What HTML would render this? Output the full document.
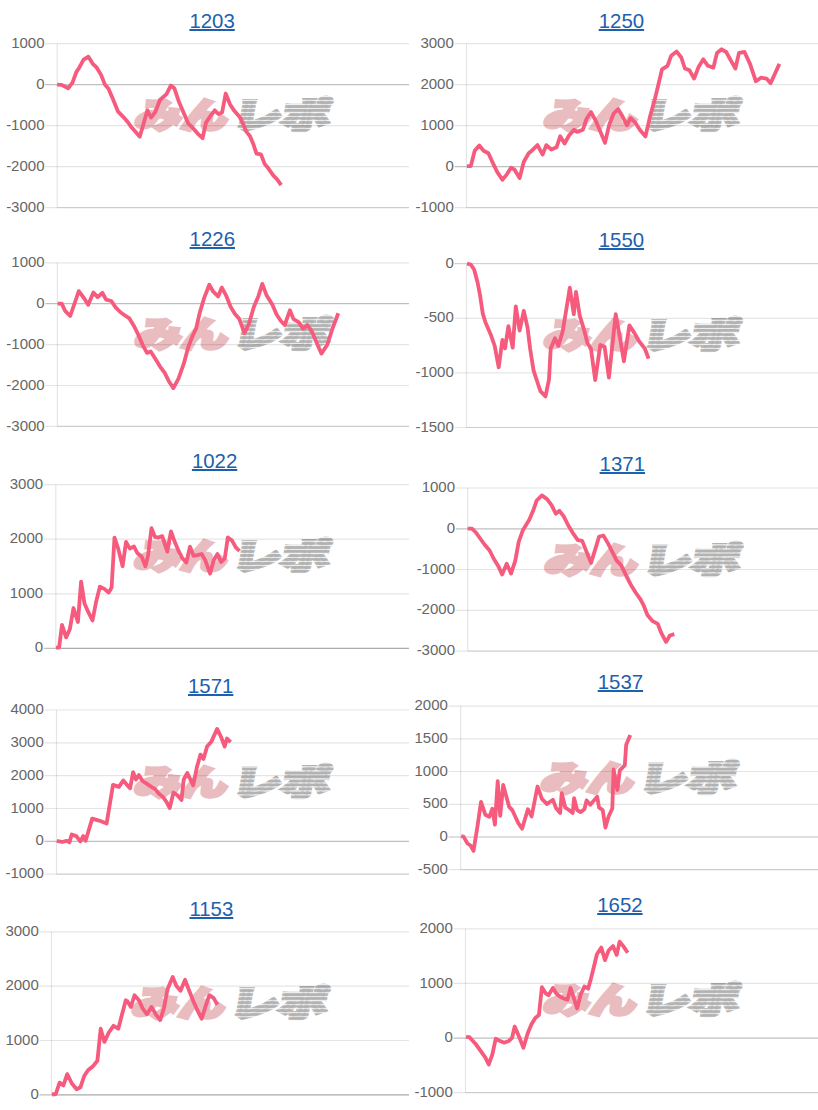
<!DOCTYPE html>
<html lang="ja"><head><meta charset="utf-8"><title>charts</title>
<style>
html,body{margin:0;padding:0;background:#fff;}
body{width:818px;height:1110px;position:relative;overflow:hidden;}
svg.c{position:absolute;left:0;top:0;}
svg.c text{font-family:"Liberation Sans",Arial,sans-serif;font-size:15px;fill:#666;text-anchor:end;}
svg.c line{stroke-width:1.2;}
.ln{fill:none;stroke:#f65a7d;stroke-width:3.8;stroke-linejoin:round;stroke-linecap:butt;}
svg.c text.wm1,svg.c text.wm2{font-family:"Noto Sans CJK JP",sans-serif;font-weight:900;font-size:40px;text-anchor:start;}
svg.c text.wm1{fill:#e9bcbf;}
svg.c text.wm2{fill:url(#stripe);}
a.tt{position:absolute;width:200px;text-align:center;font-family:"Liberation Sans",Arial,sans-serif;font-size:20.4px;line-height:1;color:#1c60ae;text-decoration:underline;text-decoration-thickness:1.8px;text-underline-offset:0.8px;}
</style></head><body>
<svg class="c" width="818" height="1110" viewBox="0 0 818 1110">
<defs>
<pattern id="stripe" patternUnits="userSpaceOnUse" width="8" height="4"><rect width="8" height="2.8" fill="#b2b2b2"/></pattern>
</defs>
<g><g transform="translate(133.1,97.2)"><text class="wm1" x="0" y="31" textLength="93" lengthAdjust="spacingAndGlyphs" transform="skewX(-10) translate(6,0)" stroke="#e9bcbf" stroke-width="3.5" stroke-linejoin="miter" style="font-size:35px">みん</text><text class="wm2" x="98" y="31" textLength="97" lengthAdjust="spacingAndGlyphs" transform="skewX(-10) translate(6,0)" stroke="url(#stripe)" stroke-width="4" stroke-linejoin="miter" style="font-size:35px">レポ</text></g><line x1="45.2" y1="43.7" x2="409" y2="43.7" stroke="rgba(0,0,0,0.1)"/><text x="44.5" y="47.8">1000</text><line x1="45.2" y1="84.7" x2="409" y2="84.7" stroke="rgba(0,0,0,0.25)"/><text x="44.5" y="88.8">0</text><line x1="45.2" y1="125.6" x2="409" y2="125.6" stroke="rgba(0,0,0,0.1)"/><text x="44.5" y="129.8">-1000</text><line x1="45.2" y1="166.6" x2="409" y2="166.6" stroke="rgba(0,0,0,0.1)"/><text x="44.5" y="170.7">-2000</text><line x1="45.2" y1="207.6" x2="409" y2="207.6" stroke="rgba(0,0,0,0.1)"/><text x="44.5" y="211.7">-3000</text><line x1="57.2" y1="207.6" x2="409" y2="207.6" stroke="rgba(0,0,0,0.1)"/><line x1="57.2" y1="43.7" x2="57.2" y2="207.6" stroke="rgba(0,0,0,0.1)"/><polyline points="57.2,84.6 61.6,84.9 68.2,88.3 72.6,82.4 76.3,72.1 79.2,67.7 83.6,59.7 88.4,56.7 92.8,63.8 96.8,67.7 101.2,75.1 104.9,84.6 108.5,88.7 113,99.3 118.1,111.7 123.9,117.6 128.3,122.7 131.3,127.1 139.8,136.7 147.4,110.3 151.1,117.6 155.5,111.7 159.9,100 166.5,94.1 170.8,85.6 174.4,88.3 178.8,101.5 183.2,111.8 188.3,123.5 193.5,128.7 197.9,133.8 202.6,138.2 205.9,122.8 210.3,116.2 214.7,110.3 218.4,114 222.1,112.5 225.7,93.5 230.1,104.5 234.5,111.1 239.7,116.9 243.3,124.3 246.3,131.6 249.9,136 253.6,144.8 256.5,153.6 261,154.3 264.6,163.9 268.3,168.3 273.4,175.6 277.1,179.3 281.2,185.2" class="ln"/></g><g><g transform="translate(542.2,97.2)"><text class="wm1" x="0" y="31" textLength="93" lengthAdjust="spacingAndGlyphs" transform="skewX(-10) translate(6,0)" stroke="#e9bcbf" stroke-width="3.5" stroke-linejoin="miter" style="font-size:35px">みん</text><text class="wm2" x="98" y="31" textLength="97" lengthAdjust="spacingAndGlyphs" transform="skewX(-10) translate(6,0)" stroke="url(#stripe)" stroke-width="4" stroke-linejoin="miter" style="font-size:35px">レポ</text></g><line x1="454.5" y1="43.7" x2="818" y2="43.7" stroke="rgba(0,0,0,0.1)"/><text x="453.8" y="47.8">3000</text><line x1="454.5" y1="84.7" x2="818" y2="84.7" stroke="rgba(0,0,0,0.1)"/><text x="453.8" y="88.8">2000</text><line x1="454.5" y1="125.7" x2="818" y2="125.7" stroke="rgba(0,0,0,0.1)"/><text x="453.8" y="129.8">1000</text><line x1="454.5" y1="166.7" x2="818" y2="166.7" stroke="rgba(0,0,0,0.25)"/><text x="453.8" y="170.8">0</text><line x1="454.5" y1="207.7" x2="818" y2="207.7" stroke="rgba(0,0,0,0.1)"/><text x="453.8" y="211.8">-1000</text><line x1="466.5" y1="207.7" x2="818" y2="207.7" stroke="rgba(0,0,0,0.1)"/><line x1="466.5" y1="43.7" x2="466.5" y2="207.7" stroke="rgba(0,0,0,0.1)"/><polyline points="467,166.1 470.8,166.1 474.7,150.7 479.3,145.5 483.6,150.7 488.4,153.2 493.9,165.2 497.3,172.1 502.4,179.8 506.7,174.6 511,167.8 514.4,169.5 519.6,178.1 523.8,161.8 528.7,153.2 532.3,150.2 537.5,145.1 542.6,154.6 546.3,145.1 551.4,149.5 556.5,147.3 560.2,136.3 564.6,143.6 569,135.5 574.1,129.7 577.1,131.9 582.9,129.7 586.6,118.7 591,112.1 595.4,120.1 600.5,131.9 605,142.9 609.3,124.5 613.7,113.5 618.2,109.1 622.6,116.5 627,125.3 630.6,117.9 635,122.3 640,130 645.5,136.4 650.1,116.2 654.7,99.7 658.3,85 662,69.4 667.5,65.8 671.2,55.7 676.7,51.6 681.3,57.5 684.9,68.5 689.5,70.3 694.1,78.6 698.7,66.7 703.3,59.3 707.9,65.8 713.4,67.6 717,52.9 721.6,49.3 726.2,52 730.8,60.3 735.4,68.5 739,52.9 744.5,52 750,63.9 755.9,81.3 761,77.7 766.5,78.6 770.6,83.2 779.4,63.9" class="ln"/></g><g><g transform="translate(133.2,316.3)"><text class="wm1" x="0" y="31" textLength="93" lengthAdjust="spacingAndGlyphs" transform="skewX(-10) translate(6,0)" stroke="#e9bcbf" stroke-width="3.5" stroke-linejoin="miter" style="font-size:35px">みん</text><text class="wm2" x="98" y="31" textLength="97" lengthAdjust="spacingAndGlyphs" transform="skewX(-10) translate(6,0)" stroke="url(#stripe)" stroke-width="4" stroke-linejoin="miter" style="font-size:35px">レポ</text></g><line x1="45.4" y1="262.8" x2="409" y2="262.8" stroke="rgba(0,0,0,0.1)"/><text x="44.7" y="266.9">1000</text><line x1="45.4" y1="303.7" x2="409" y2="303.7" stroke="rgba(0,0,0,0.25)"/><text x="44.7" y="307.8">0</text><line x1="45.4" y1="344.6" x2="409" y2="344.6" stroke="rgba(0,0,0,0.1)"/><text x="44.7" y="348.7">-1000</text><line x1="45.4" y1="385.5" x2="409" y2="385.5" stroke="rgba(0,0,0,0.1)"/><text x="44.7" y="389.6">-2000</text><line x1="45.4" y1="426.4" x2="409" y2="426.4" stroke="rgba(0,0,0,0.1)"/><text x="44.7" y="430.5">-3000</text><line x1="57.4" y1="426.4" x2="409" y2="426.4" stroke="rgba(0,0,0,0.1)"/><line x1="57.4" y1="262.8" x2="57.4" y2="426.4" stroke="rgba(0,0,0,0.1)"/><polyline points="57.7,303.6 61.7,303.6 65.1,310.8 70.2,316 78.8,291.1 83.9,298 88.2,304.8 93.4,292.5 97.6,297.1 102.3,292.8 106.2,299.7 111.3,301 115.6,307.4 120.8,312.5 125,315.5 129.4,318.4 133.8,325.7 138.2,334.5 142.6,344.8 147,352.9 150.7,351.4 155.8,359.5 160.2,366.8 164.6,372.7 169,381.5 173.4,388.1 178.5,378.6 183.7,363.9 188.1,347.7 192.5,336 196.1,328.7 199.8,312.5 204.2,297.9 209.3,284.7 213,291.3 218.1,296.4 221.8,287.6 226.2,295.7 230.6,306.7 235,314 239.4,319.1 244.4,333.1 248.8,324.3 253.9,306.7 258.3,296.4 262.3,283.9 266.4,294.9 272.3,304.5 276.7,314.7 281.1,321.3 284.7,325 289.9,310.3 293.5,319.1 298.7,322.1 303.1,328.7 307.5,325 311.9,331.6 316.3,341.9 321.4,353.6 327.3,344.8 332.4,328.7 338.3,313.3" class="ln"/></g><g><g transform="translate(542.2,317.2)"><text class="wm1" x="0" y="31" textLength="93" lengthAdjust="spacingAndGlyphs" transform="skewX(-10) translate(6,0)" stroke="#e9bcbf" stroke-width="3.5" stroke-linejoin="miter" style="font-size:35px">みん</text><text class="wm2" x="98" y="31" textLength="97" lengthAdjust="spacingAndGlyphs" transform="skewX(-10) translate(6,0)" stroke="url(#stripe)" stroke-width="4" stroke-linejoin="miter" style="font-size:35px">レポ</text></g><line x1="454.5" y1="263.7" x2="818" y2="263.7" stroke="rgba(0,0,0,0.18)"/><text x="453.8" y="267.8">0</text><line x1="454.5" y1="318.3" x2="818" y2="318.3" stroke="rgba(0,0,0,0.1)"/><text x="453.8" y="322.4">-500</text><line x1="454.5" y1="372.9" x2="818" y2="372.9" stroke="rgba(0,0,0,0.1)"/><text x="453.8" y="377">-1000</text><line x1="454.5" y1="427.5" x2="818" y2="427.5" stroke="rgba(0,0,0,0.1)"/><text x="453.8" y="431.6">-1500</text><line x1="466.5" y1="427.5" x2="818" y2="427.5" stroke="rgba(0,0,0,0.1)"/><line x1="466.5" y1="263.7" x2="466.5" y2="427.5" stroke="rgba(0,0,0,0.1)"/><polyline points="467,263.7 470.8,264.5 474.2,269.7 477.6,282.5 480.2,296.2 482.7,313.3 485.3,321.9 490.5,333.9 494.7,345.9 498.7,367.3 502.4,339.9 505,348.4 508.4,326.2 512.7,347.6 515.8,306.5 519.6,330.5 523.8,310.8 527.6,327.9 530.1,348.5 533.6,370.7 537,381 540.4,391.2 545.5,396.4 549,379.3 550.7,348.5 555,338.2 558.4,345.9 562.7,331.3 566.1,310.8 569.8,287.7 573.8,314.2 576,292 579.8,315.9 584,329.6 587.5,343.3 590.9,348.5 595.2,380.1 600.3,345 604.6,346.7 608.9,377.6 615.7,314.2 620,338.2 623.9,361.3 629.4,325.4 634.5,333.1 638.8,340.8 644.8,348.5 648.6,358.7" class="ln"/></g><g><g transform="translate(132.4,538.2)"><text class="wm1" x="0" y="31" textLength="93" lengthAdjust="spacingAndGlyphs" transform="skewX(-10) translate(6,0)" stroke="#e9bcbf" stroke-width="3.5" stroke-linejoin="miter" style="font-size:35px">みん</text><text class="wm2" x="98" y="31" textLength="97" lengthAdjust="spacingAndGlyphs" transform="skewX(-10) translate(6,0)" stroke="url(#stripe)" stroke-width="4" stroke-linejoin="miter" style="font-size:35px">レポ</text></g><line x1="43.8" y1="484.7" x2="409" y2="484.7" stroke="rgba(0,0,0,0.1)"/><text x="43.1" y="488.8">3000</text><line x1="43.8" y1="539.2" x2="409" y2="539.2" stroke="rgba(0,0,0,0.1)"/><text x="43.1" y="543.3">2000</text><line x1="43.8" y1="593.8" x2="409" y2="593.8" stroke="rgba(0,0,0,0.1)"/><text x="43.1" y="597.9">1000</text><line x1="43.8" y1="648.3" x2="409" y2="648.3" stroke="rgba(0,0,0,0.25)"/><text x="43.1" y="652.4">0</text><line x1="55.8" y1="648.3" x2="409" y2="648.3" stroke="rgba(0,0,0,0.1)"/><line x1="55.8" y1="484.7" x2="55.8" y2="648.3" stroke="rgba(0,0,0,0.1)"/><polyline points="55.9,647.6 59.1,647.6 62,624.9 66.1,637.4 69.8,629.3 73.5,608 77.9,622 81.1,581.6 84.5,603.6 88.1,611.7 92.5,620.5 96.2,601.4 99.9,586.7 104.3,588.9 108.7,592.6 111.6,587.5 114.5,537.6 118.2,548.6 122.6,566.2 126,542 129.9,548.6 133.9,546.4 137.3,553 141.7,556.7 145.4,566.2 148,555.9 151.5,528.1 154.9,536.9 158.6,537.6 162.2,536.1 167.3,551.6 171,531.4 174.7,541.8 178.3,550.3 182,557.7 186.3,562.6 190,546.7 193.6,555.8 197.3,555.2 201.6,554 205.2,560.1 210.1,573.6 213.8,560.1 217.5,554 221.1,562 224.8,558.3 227.8,537.5 232.1,540.6 235.8,547.3 239.5,551" class="ln"/></g><g><g transform="translate(542.9,541.5)"><text class="wm1" x="0" y="31" textLength="93" lengthAdjust="spacingAndGlyphs" transform="skewX(-10) translate(6,0)" stroke="#e9bcbf" stroke-width="3.5" stroke-linejoin="miter" style="font-size:35px">みん</text><text class="wm2" x="98" y="31" textLength="97" lengthAdjust="spacingAndGlyphs" transform="skewX(-10) translate(6,0)" stroke="url(#stripe)" stroke-width="4" stroke-linejoin="miter" style="font-size:35px">レポ</text></g><line x1="455.7" y1="488" x2="818" y2="488" stroke="rgba(0,0,0,0.1)"/><text x="455" y="492.1">1000</text><line x1="455.7" y1="528.8" x2="818" y2="528.8" stroke="rgba(0,0,0,0.25)"/><text x="455" y="532.9">0</text><line x1="455.7" y1="569.5" x2="818" y2="569.5" stroke="rgba(0,0,0,0.1)"/><text x="455" y="573.6">-1000</text><line x1="455.7" y1="610.3" x2="818" y2="610.3" stroke="rgba(0,0,0,0.1)"/><text x="455" y="614.4">-2000</text><line x1="455.7" y1="651.1" x2="818" y2="651.1" stroke="rgba(0,0,0,0.1)"/><text x="455" y="655.2">-3000</text><line x1="467.7" y1="651.1" x2="818" y2="651.1" stroke="rgba(0,0,0,0.1)"/><line x1="467.7" y1="488" x2="467.7" y2="651.1" stroke="rgba(0,0,0,0.1)"/><polyline points="467.7,528.7 472,528.7 475.9,532.5 480.2,538.5 484.5,544.5 489.6,550.5 493.9,559 498.2,565.9 502.1,574.4 506.7,563.8 511,573.6 515.3,560.7 518.7,541.9 523,529.9 529.4,519.6 533.1,510.8 536.7,500.5 541.9,495.4 547,499.1 551.4,504.9 555.8,513.7 559.5,510.8 563.9,516.7 568.3,525.5 572.7,532.8 577.8,540.1 582.2,540.9 586.6,551.9 591,562.9 595.4,548.9 599.1,536.5 603.5,535.7 607.9,543.1 612.3,551.9 616.7,560.7 621.1,565.1 626.8,576.8 630.8,584.7 635.6,592.5 640.5,599.3 644,606.2 647.4,615 652.3,620.9 657.7,623.8 661.1,632.6 666,641.9 669.9,635.5 674.3,634.1" class="ln"/></g><g><g transform="translate(132.8,763.5)"><text class="wm1" x="0" y="31" textLength="93" lengthAdjust="spacingAndGlyphs" transform="skewX(-10) translate(6,0)" stroke="#e9bcbf" stroke-width="3.5" stroke-linejoin="miter" style="font-size:35px">みん</text><text class="wm2" x="98" y="31" textLength="97" lengthAdjust="spacingAndGlyphs" transform="skewX(-10) translate(6,0)" stroke="url(#stripe)" stroke-width="4" stroke-linejoin="miter" style="font-size:35px">レポ</text></g><line x1="44.5" y1="710" x2="409" y2="710" stroke="rgba(0,0,0,0.1)"/><text x="43.8" y="714.1">4000</text><line x1="44.5" y1="742.8" x2="409" y2="742.8" stroke="rgba(0,0,0,0.1)"/><text x="43.8" y="746.9">3000</text><line x1="44.5" y1="775.6" x2="409" y2="775.6" stroke="rgba(0,0,0,0.1)"/><text x="43.8" y="779.7">2000</text><line x1="44.5" y1="808.5" x2="409" y2="808.5" stroke="rgba(0,0,0,0.1)"/><text x="43.8" y="812.6">1000</text><line x1="44.5" y1="841.3" x2="409" y2="841.3" stroke="rgba(0,0,0,0.25)"/><text x="43.8" y="845.4">0</text><line x1="44.5" y1="874.1" x2="409" y2="874.1" stroke="rgba(0,0,0,0.1)"/><text x="43.8" y="878.2">-1000</text><line x1="56.5" y1="874.1" x2="409" y2="874.1" stroke="rgba(0,0,0,0.1)"/><line x1="56.5" y1="710" x2="56.5" y2="874.1" stroke="rgba(0,0,0,0.1)"/><polyline points="56.9,840.8 62.4,842 66.4,840.8 69.4,842.4 71.7,834.5 76.3,836.1 80.3,841.4 83.2,836.1 85.6,840.8 92.2,818.6 99.1,820.6 106.6,823.6 113,784.9 118.9,786.9 123.3,780.4 128.8,786.9 130.1,788.3 133.1,772.2 136,779.5 138.9,775.1 142.6,781 147,783.9 151.4,786.9 155.1,789.1 158.7,793.5 163.1,797.1 166.8,802.3 169.7,808.1 173.4,792.7 177.1,795 181.5,800.1 183.7,779.5 187.3,773 193.2,785.4 196.9,767.1 200.5,754.6 203.5,759 207.1,746.5 211.5,741.4 217.1,728.9 221.1,737 224.7,746.5 227,738.5 230.6,742.1" class="ln"/></g><g><g transform="translate(539.3,759.6)"><text class="wm1" x="0" y="31" textLength="93" lengthAdjust="spacingAndGlyphs" transform="skewX(-10) translate(6,0)" stroke="#e9bcbf" stroke-width="3.5" stroke-linejoin="miter" style="font-size:35px">みん</text><text class="wm2" x="98" y="31" textLength="97" lengthAdjust="spacingAndGlyphs" transform="skewX(-10) translate(6,0)" stroke="url(#stripe)" stroke-width="4" stroke-linejoin="miter" style="font-size:35px">レポ</text></g><line x1="448.6" y1="706.1" x2="818" y2="706.1" stroke="rgba(0,0,0,0.1)"/><text x="447.9" y="710.2">2000</text><line x1="448.6" y1="738.8" x2="818" y2="738.8" stroke="rgba(0,0,0,0.1)"/><text x="447.9" y="742.9">1500</text><line x1="448.6" y1="771.5" x2="818" y2="771.5" stroke="rgba(0,0,0,0.1)"/><text x="447.9" y="775.6">1000</text><line x1="448.6" y1="804.3" x2="818" y2="804.3" stroke="rgba(0,0,0,0.1)"/><text x="447.9" y="808.4">500</text><line x1="448.6" y1="837" x2="818" y2="837" stroke="rgba(0,0,0,0.25)"/><text x="447.9" y="841.1">0</text><line x1="448.6" y1="869.7" x2="818" y2="869.7" stroke="rgba(0,0,0,0.1)"/><text x="447.9" y="873.8">-500</text><line x1="460.6" y1="869.7" x2="818" y2="869.7" stroke="rgba(0,0,0,0.1)"/><line x1="460.6" y1="706.1" x2="460.6" y2="869.7" stroke="rgba(0,0,0,0.1)"/><polyline points="461.2,836.2 463.5,836.6 467.5,843.5 470.5,845.5 473.5,850.9 477.4,826.7 481,801.9 485.4,814.8 489.3,816.8 492.3,808.8 494.9,824.7 497.7,781.1 500.2,815.8 503.2,785 509.2,806.9 512.1,809.8 518.1,822.7 522.1,828.7 527.9,809.2 531.6,816.5 537.5,786.5 541.9,798.9 547,804.1 552.9,799.7 555.8,807.7 560.2,812.9 561.7,793.1 565.3,807.7 569,810 572.7,812.9 574.1,798.2 577.1,810 580.7,812.1 584.4,809.2 586.6,800.4 590.3,804.8 594,800.4 597.2,796.7 599.1,807.7 602.7,810 605.4,827.5 608.6,816.5 612.3,808.5 613.6,769.5 617.4,790 619.8,770.4 624.8,765.2 626.2,744.7 630.3,735.1" class="ln"/></g><g><g transform="translate(130.2,985.3)"><text class="wm1" x="0" y="31" textLength="93" lengthAdjust="spacingAndGlyphs" transform="skewX(-10) translate(6,0)" stroke="#e9bcbf" stroke-width="3.5" stroke-linejoin="miter" style="font-size:35px">みん</text><text class="wm2" x="98" y="31" textLength="97" lengthAdjust="spacingAndGlyphs" transform="skewX(-10) translate(6,0)" stroke="url(#stripe)" stroke-width="4" stroke-linejoin="miter" style="font-size:35px">レポ</text></g><line x1="39.5" y1="931.8" x2="409" y2="931.8" stroke="rgba(0,0,0,0.1)"/><text x="38.8" y="935.9">3000</text><line x1="39.5" y1="986.2" x2="409" y2="986.2" stroke="rgba(0,0,0,0.1)"/><text x="38.8" y="990.3">2000</text><line x1="39.5" y1="1040.5" x2="409" y2="1040.5" stroke="rgba(0,0,0,0.1)"/><text x="38.8" y="1044.6">1000</text><line x1="39.5" y1="1094.9" x2="409" y2="1094.9" stroke="rgba(0,0,0,0.25)"/><text x="38.8" y="1099">0</text><line x1="51.5" y1="1094.9" x2="409" y2="1094.9" stroke="rgba(0,0,0,0.1)"/><line x1="51.5" y1="931.8" x2="51.5" y2="1094.9" stroke="rgba(0,0,0,0.1)"/><polyline points="52,1094.5 55.8,1094 59.6,1082.6 63.4,1085.4 67.2,1074.1 71.9,1083.5 76.6,1089.2 80.4,1087.3 84.2,1076 88,1070.3 92.7,1066.5 97.4,1060.8 100.7,1028.7 104.4,1041.9 108.8,1032.5 113.5,1025.8 118.3,1028.7 122,1014.5 125.8,1000.3 127.2,1001.1 130.9,1006.9 134.5,995.2 138.9,1000.3 142.6,1008.4 147,1014.3 151.4,1006.9 155.8,1014.3 160.2,1020.1 163.9,1008.4 167.5,989.3 172.7,976.9 176.3,985.7 180.5,990.8 185.1,979.8 189.5,991.5 193.9,1002.5 197.6,1010.6 201.6,1018.7 205.4,1006.9 209.3,995.2 213.7,998.1 217.4,1004.7" class="ln"/></g><g><g transform="translate(541.8,982.3)"><text class="wm1" x="0" y="31" textLength="93" lengthAdjust="spacingAndGlyphs" transform="skewX(-10) translate(6,0)" stroke="#e9bcbf" stroke-width="3.5" stroke-linejoin="miter" style="font-size:35px">みん</text><text class="wm2" x="98" y="31" textLength="97" lengthAdjust="spacingAndGlyphs" transform="skewX(-10) translate(6,0)" stroke="url(#stripe)" stroke-width="4" stroke-linejoin="miter" style="font-size:35px">レポ</text></g><line x1="453.5" y1="928.8" x2="818" y2="928.8" stroke="rgba(0,0,0,0.1)"/><text x="452.8" y="932.9">2000</text><line x1="453.5" y1="983.4" x2="818" y2="983.4" stroke="rgba(0,0,0,0.1)"/><text x="452.8" y="987.5">1000</text><line x1="453.5" y1="1038.1" x2="818" y2="1038.1" stroke="rgba(0,0,0,0.25)"/><text x="452.8" y="1042.2">0</text><line x1="453.5" y1="1092.7" x2="818" y2="1092.7" stroke="rgba(0,0,0,0.1)"/><text x="452.8" y="1096.8">-1000</text><line x1="465.5" y1="1092.7" x2="818" y2="1092.7" stroke="rgba(0,0,0,0.1)"/><line x1="465.5" y1="928.8" x2="465.5" y2="1092.7" stroke="rgba(0,0,0,0.1)"/><polyline points="466.1,1036.8 469.5,1037.2 475.4,1043.7 480.4,1050.7 485.4,1057.6 488.7,1064.5 492.3,1054.6 495.7,1038.8 500.2,1041.1 504.2,1042.7 509.2,1040.7 512.1,1037.8 514.7,1026.5 519.1,1036.8 523.4,1047.7 527.9,1032.7 531.6,1023.9 535.3,1018 538.9,1015.1 541.9,987.2 545.5,993.1 548.5,995.3 552.9,987.9 556.5,993.8 560.2,996.7 564.6,998.9 567.5,999.7 570.5,987.9 574.1,998.9 577.1,1008.5 580.7,994.5 584.4,986.5 588.1,988.7 591,978.4 593.9,966.7 596.9,954.2 601.3,947.6 605,960.1 608.6,950.5 613,946.1 616.7,954.9 619.6,941.7 623.3,946.1 627.7,952.7" class="ln"/></g>
</svg>
<a href="#" class="tt" style="left:112.1px;top:10.5px">1203</a><a href="#" class="tt" style="left:521.4px;top:10.5px">1250</a><a href="#" class="tt" style="left:112.3px;top:229.2px">1226</a><a href="#" class="tt" style="left:521.4px;top:230px">1550</a><a href="#" class="tt" style="left:114.6px;top:451.1px">1022</a><a href="#" class="tt" style="left:522.3px;top:454.1px">1371</a><a href="#" class="tt" style="left:110.7px;top:676.1px">1571</a><a href="#" class="tt" style="left:520.4px;top:672px">1537</a><a href="#" class="tt" style="left:111.4px;top:898.5px">1153</a><a href="#" class="tt" style="left:519.9px;top:895.1px">1652</a>
</body></html>
